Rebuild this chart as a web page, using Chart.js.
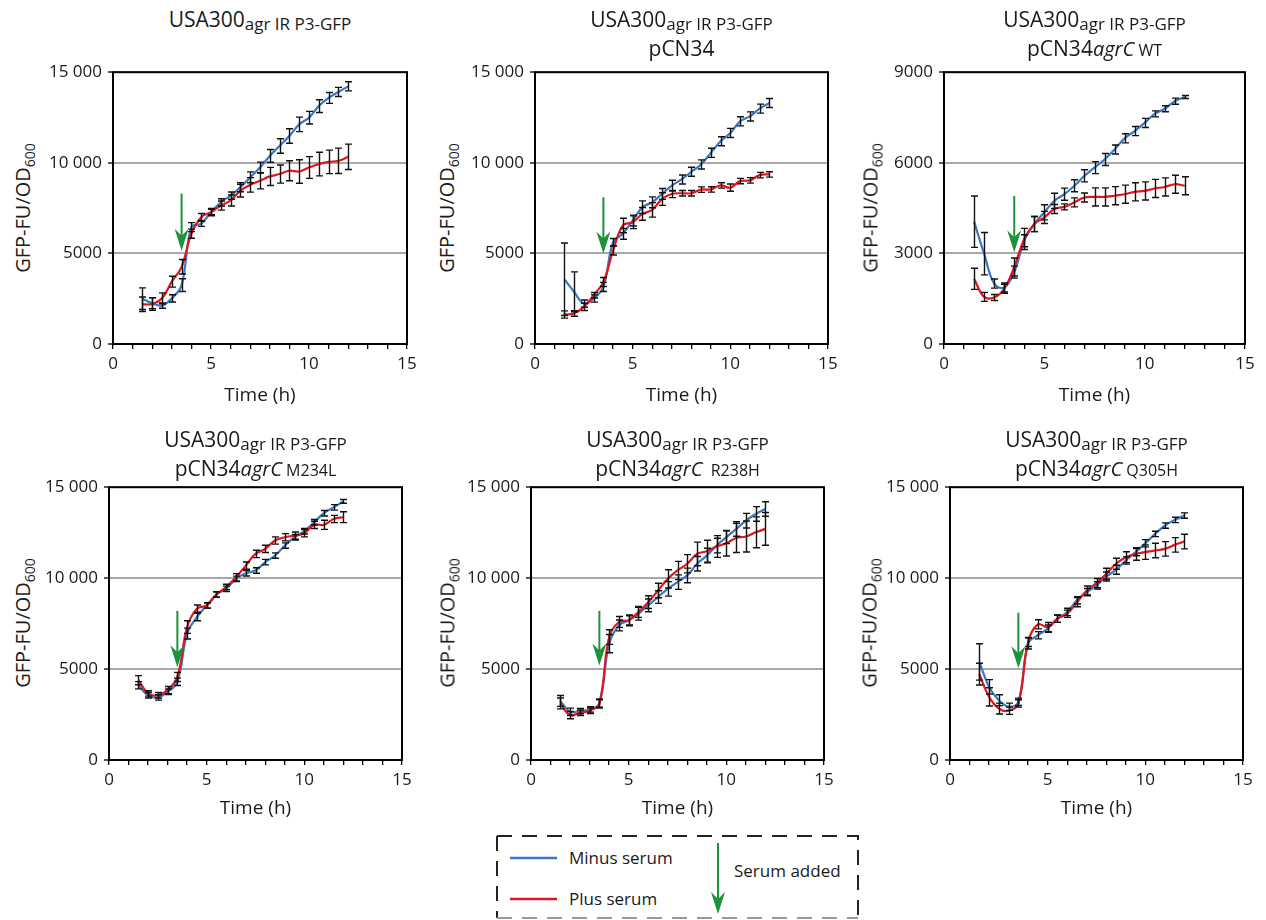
<!DOCTYPE html>
<html>
<head>
<meta charset="utf-8">
<script src="https://cdn.jsdelivr.net/npm/chart.js@4.4.1/dist/chart.umd.min.js"></script>
<style>
  body { margin: 0; background: #fff; font-family: 'Open Sans', sans-serif; color: #1a1a1a; }
  #page { position: relative; width: 1266px; height: 920px; overflow: hidden; }
  canvas { position: absolute; }
  .title { position: absolute; width: 420px; text-align: center; white-space: nowrap; line-height: 27px; }
  .title .big { font-size: 21px; }
  .title .small { font-size: 17px; position: relative; top: 3px; }
  .title .gene { font-size: 20px; font-style: italic; }
  .title .mut { font-size: 16px; }
  .ylab { position: absolute; width: 220px; text-align: center; font-size: 20px; white-space: nowrap;
          transform: translate(-50%, -50%) rotate(-90deg); }
  .ylab .sub { font-size: 14px; position: relative; top: 5px; }
  #legend { position: absolute; left: 490px; top: 830px; }
</style>
</head>
<body>
<div id="page"></div>
<script>
// sampling times (h)
const hours = [1.5, 2, 2.5, 3, 3.5, 4, 4.5, 5, 5.5, 6, 6.5, 7, 7.5, 8, 8.5, 9, 9.5, 10, 10.5, 11, 11.5, 12];

// panel 1: USA300 agr IR P3-GFP
const p1Minus = [2500, 2250, 2120, 2520, 3250, 6450, 6640, 7280, 7820, 8190, 8650, 9200, 9740, 10380, 10930, 11480, 12120, 12490, 13130, 13580, 13910, 14220];
const p1Plus = [2190, 2210, 2520, 3440, 4260, 6090, 7000, 7280, 7640, 7920, 8460, 8780, 9010, 9250, 9380, 9560, 9520, 9740, 9930, 10050, 10110, 10330];
const p1MinusErr = [600, 300, 150, 200, 350, 250, 150, 150, 200, 200, 250, 300, 300, 350, 400, 400, 400, 350, 350, 300, 250, 250];
const p1PlusErr = [400, 350, 300, 300, 400, 250, 200, 200, 250, 300, 350, 400, 450, 500, 500, 550, 650, 600, 650, 650, 700, 700];

// panel 2: pCN34
const p2Minus = [3570, 2880, 2230, 2510, 3150, 5620, 6080, 6810, 7550, 7820, 8280, 8740, 9080, 9505, 9910, 10550, 11190, 11650, 12290, 12560, 12990, 13300];
const p2Plus = [1630, 1685, 2050, 2690, 3420, 5160, 6540, 6720, 7180, 7400, 8000, 8280, 8320, 8320, 8520, 8530, 8750, 8630, 8990, 9030, 9320, 9360];
const p2MinusErr = [2000, 1100, 200, 200, 250, 200, 300, 300, 350, 300, 300, 300, 250, 250, 250, 250, 250, 250, 250, 250, 250, 250];
const p2PlusErr = [200, 150, 200, 150, 250, 250, 400, 350, 350, 400, 350, 200, 150, 150, 150, 150, 150, 200, 150, 150, 150, 150];

// panel 3: pCN34 agrC WT
const p3Minus = [4050, 2990, 2000, 1870, 2380, 3420, 3970, 4360, 4740, 4960, 5240, 5570, 5840, 6110, 6440, 6810, 7050, 7320, 7620, 7790, 8040, 8180];
const p3Plus = [2160, 1560, 1540, 1830, 2550, 3480, 3970, 4190, 4470, 4540, 4690, 4850, 4870, 4870, 4910, 4960, 5040, 5070, 5150, 5200, 5290, 5240];
const p3MinusErr = [850, 700, 150, 150, 200, 200, 250, 250, 250, 200, 200, 200, 200, 200, 150, 150, 150, 150, 100, 100, 100, 50];
const p3PlusErr = [350, 150, 100, 150, 300, 350, 250, 200, 150, 100, 150, 150, 300, 300, 300, 300, 300, 300, 300, 300, 300, 300];

// panel 4: pCN34 agrC M234L
const p4Minus = [4110, 3560, 3440, 3750, 4300, 6950, 7860, 8500, 9100, 9410, 9960, 10270, 10420, 10880, 11240, 11790, 12250, 12580, 13070, 13570, 13890, 14220];
const p4Plus = [4390, 3660, 3560, 3840, 4570, 7310, 8320, 8500, 9100, 9510, 10050, 10690, 11330, 11610, 12070, 12250, 12340, 12470, 12930, 12930, 13250, 13350];
const p4MinusErr = [200, 150, 150, 150, 200, 300, 200, 150, 150, 150, 150, 150, 150, 150, 150, 150, 150, 150, 150, 150, 150, 100];
const p4PlusErr = [250, 150, 150, 200, 250, 350, 200, 150, 150, 150, 200, 200, 200, 200, 200, 200, 200, 200, 200, 250, 200, 300];

// panel 5: pCN34 agrC R238H
const p5Minus = [3250, 2650, 2690, 2780, 3110, 6400, 7400, 7680, 8040, 8500, 8960, 9410, 9780, 10150, 10790, 11240, 11790, 12250, 12700, 13160, 13530, 13800];
const p5Plus = [3110, 2470, 2600, 2710, 3110, 6760, 7590, 7680, 8140, 8680, 9320, 9960, 10420, 10790, 11330, 11480, 11740, 11920, 12210, 12290, 12520, 12710];
const p5MinusErr = [300, 200, 150, 150, 200, 500, 300, 300, 350, 350, 350, 400, 400, 400, 400, 400, 400, 350, 400, 400, 400, 400];
const p5PlusErr = [300, 200, 150, 150, 250, 400, 300, 250, 300, 350, 400, 500, 500, 500, 650, 600, 600, 700, 800, 850, 850, 900];

// panel 6: pCN34 agrC Q305H
const p6Minus = [5390, 4020, 3290, 2930, 3200, 6400, 6860, 7220, 7770, 8140, 8780, 9230, 9600, 10090, 10460, 10970, 11430, 11920, 12430, 12890, 13200, 13440];
const p6Plus = [4720, 3470, 2830, 2710, 3110, 6490, 7460, 7310, 7770, 8040, 8680, 9320, 9730, 10240, 10790, 11150, 11330, 11430, 11520, 11610, 11830, 12010];
const p6MinusErr = [1000, 400, 300, 200, 200, 300, 200, 200, 200, 200, 200, 200, 200, 250, 250, 200, 200, 200, 150, 150, 150, 150];
const p6PlusErr = [600, 500, 300, 200, 200, 250, 250, 250, 200, 200, 250, 250, 250, 300, 300, 300, 350, 400, 400, 400, 400, 400];

// y axes
const yMaxes = [15000, 15000, 9000, 15000, 15000, 15000];
const ySteps = [5000, 5000, 3000, 5000, 5000, 5000];

// serum added arrow (time, start value, tip value)
const arrowHour = 3.5;
const arrowTop = [8300, 8100, 4900, 8200, 8200, 8100];
const arrowTip = [5150, 5000, 3040, 5100, 5200, 5040];

// titles
const strainName = 'USA300';
const strainSuffix = 'agr IR P3-GFP';
const plasmids = ['', 'pCN34', 'pCN34', 'pCN34', 'pCN34', 'pCN34'];
const genes = ['', '', 'agrC', 'agrC', 'agrC', 'agrC'];
const mutations = ['', '', 'WT', 'M234L', '\u00a0R238H', 'Q305H'];

const BLUE = '#3b77c2';
const RED = '#e5141d';
const GREEN = '#1b933a';
const INK = '#1a1a1a';
const FONT = "'Open Sans', sans-serif";

// layout of each plot box (left, top, right, bottom) and label spots
const boxes = [
  { L: 113, T: 71, R: 407, B: 344, xH: 63, ylx: 22 },
  { L: 535, T: 71, R: 828, B: 344, xH: 63, ylx: 446 },
  { L: 944, T: 71, R: 1245, B: 344, xH: 63, ylx: 870 },
  { L: 109, T: 486, R: 402, B: 760, xH: 60, ylx: 22 },
  { L: 531, T: 486, R: 824, B: 760, xH: 60, ylx: 447 },
  { L: 950, T: 486, R: 1243, B: 760, xH: 60, ylx: 869 }
];

const series = [
  [p1Minus, p1Plus, p1MinusErr, p1PlusErr],
  [p2Minus, p2Plus, p2MinusErr, p2PlusErr],
  [p3Minus, p3Plus, p3MinusErr, p3PlusErr],
  [p4Minus, p4Plus, p4MinusErr, p4PlusErr],
  [p5Minus, p5Plus, p5MinusErr, p5PlusErr],
  [p6Minus, p6Plus, p6MinusErr, p6PlusErr]
];

const page = document.getElementById('page');

function fmtTick(v) {
  return v >= 10000 ? String(v).replace(/(\d{3})$/, ' $1') : String(v);
}

const boxPlugin = {
  id: 'box',
  beforeDatasetsDraw(chart) {
    const { ctx, chartArea: a } = chart;
    ctx.save();
    ctx.strokeStyle = '#000';
    ctx.lineWidth = 2;
    ctx.strokeRect(a.left, a.top, a.right - a.left, a.bottom - a.top);
    ctx.restore();
  }
};

const errPlugin = {
  id: 'errbars',
  afterDatasetsDraw(chart) {
    const { ctx } = chart;
    const xs = chart.scales.x, ys = chart.scales.y;
    ctx.save();
    ctx.strokeStyle = '#111';
    ctx.lineWidth = 1.4;
    chart.data.datasets.forEach(ds => {
      ds.data.forEach((pt, k) => {
        const e = ds.errors[k];
        const x = Math.round(xs.getPixelForValue(pt.x)) + 0.5;
        const y1 = ys.getPixelForValue(pt.y + e);
        const y2 = ys.getPixelForValue(pt.y - e);
        ctx.beginPath();
        ctx.moveTo(x, y1); ctx.lineTo(x, y2);
        ctx.moveTo(x - 3.5, y1); ctx.lineTo(x + 3.5, y1);
        ctx.moveTo(x - 3.5, y2); ctx.lineTo(x + 3.5, y2);
        ctx.stroke();
      });
    });
    ctx.restore();
  }
};

const arrowPlugin = {
  id: 'serumArrow',
  afterDatasetsDraw(chart) {
    const { ctx } = chart;
    const o = chart.options.plugins.serumArrow;
    const x = chart.scales.x.getPixelForValue(arrowHour);
    const yTop = chart.scales.y.getPixelForValue(o.top);
    const yTip = chart.scales.y.getPixelForValue(o.tip);
    ctx.save();
    ctx.strokeStyle = GREEN;
    ctx.fillStyle = GREEN;
    ctx.lineWidth = 2;
    ctx.beginPath();
    ctx.moveTo(x, yTop); ctx.lineTo(x, yTip - 12);
    ctx.stroke();
    ctx.beginPath();
    ctx.moveTo(x, yTip);
    ctx.lineTo(x - 7, yTip - 22);
    ctx.lineTo(x, yTip - 15);
    ctx.lineTo(x + 7, yTip - 22);
    ctx.closePath();
    ctx.fill();
    ctx.restore();
  }
};

boxes.forEach((b, i) => {
  const [minus, plus, minusErr, plusErr] = series[i];
  const padTop = 15, padRight = 25, yW = 70;
  const w = b.R - b.L, h = b.B - b.T;

  const cv = document.createElement('canvas');
  cv.width = yW + w + padRight;
  cv.height = padTop + h + b.xH;
  cv.style.left = (b.L - yW) + 'px';
  cv.style.top = (b.T - padTop) + 'px';
  page.appendChild(cv);

  // title
  const t = document.createElement('div');
  t.className = 'title';
  t.style.left = ((b.L + b.R) / 2 - 210) + 'px';
  t.style.top = (i < 3 ? 6 : 426) + 'px';
  let html = '<span class="big">' + strainName + '</span><span class="small">' + strainSuffix + '</span>';
  if (plasmids[i]) {
    html += '<br><span class="big">' + plasmids[i] + '</span>';
    if (genes[i]) html += '<span class="gene">' + genes[i] + '</span>';
    if (mutations[i]) html += '<span class="mut">\u00a0' + mutations[i] + '</span>';
  }
  t.innerHTML = html;
  page.appendChild(t);

  // y axis label
  const yl = document.createElement('div');
  yl.className = 'ylab';
  yl.style.left = b.ylx + 'px';
  yl.style.top = ((b.T + b.B) / 2) + 'px';
  yl.innerHTML = 'GFP-FU/OD<span class="sub">600</span>';
  page.appendChild(yl);

  new Chart(cv, {
    type: 'line',
    data: {
      datasets: [
        { label: 'Plus serum', data: hours.map((x, k) => ({ x, y: plus[k] })), errors: plusErr,
          borderColor: RED, borderWidth: 2.2, pointRadius: 0, tension: 0.4, fill: false, order: 0 },
        { label: 'Minus serum', data: hours.map((x, k) => ({ x, y: minus[k] })), errors: minusErr,
          borderColor: BLUE, borderWidth: 2.2, pointRadius: 0, tension: 0.4, fill: false, order: 1 }
      ]
    },
    options: {
      responsive: false,
      animation: false,
      events: [],
      layout: { padding: { top: padTop, right: padRight, left: 0, bottom: 0 } },
      plugins: {
        legend: { display: false },
        tooltip: { enabled: false },
        serumArrow: { top: arrowTop[i], tip: arrowTip[i] }
      },
      scales: {
        x: {
          type: 'linear', min: 0, max: 15,
          afterFit(s) { s.height = b.xH; },
          ticks: { stepSize: 1, autoSkip: false, maxRotation: 0, padding: 5, color: INK,
                   font: { family: FONT, size: 17 },
                   callback: v => (v % 5 === 0 ? String(v) : '') },
          grid: { drawOnChartArea: false, color: '#000', lineWidth: 1.3, tickLength: 5 },
          border: { display: false },
          title: { display: true, text: 'Time (h)', color: INK, padding: 0,
                   font: { family: FONT, size: 19 } }
        },
        y: {
          min: 0, max: yMaxes[i],
          afterFit(s) { s.width = yW; },
          ticks: { stepSize: ySteps[i], padding: 6, color: INK,
                   font: { family: FONT, size: 17 }, callback: fmtTick },
          grid: { color: '#a8a8a8', lineWidth: 2, tickColor: '#000', tickWidth: 1.3, tickLength: 5 },
          border: { display: false }
        }
      }
    },
    plugins: [boxPlugin, errPlugin, arrowPlugin]
  });
});

// legend
page.insertAdjacentHTML('beforeend', `
<svg id="legend" width="380" height="90" xmlns="http://www.w3.org/2000/svg">
  <path d="M7 6 H368 V88" fill="none" stroke="#222" stroke-width="2" stroke-dasharray="15 10"/>
  <path d="M7 6 V88" fill="none" stroke="#222" stroke-width="2" stroke-dasharray="15 10"/>
  <path d="M7 88 H368" fill="none" stroke="#999" stroke-width="2" stroke-dasharray="15 10"/>
  <line x1="20" y1="28" x2="67" y2="28" stroke="${BLUE}" stroke-width="2.5"/>
  <text x="79" y="34" font-family="Open Sans, sans-serif" font-size="17" fill="${INK}">Minus serum</text>
  <line x1="20" y1="69" x2="67" y2="69" stroke="${RED}" stroke-width="2.5"/>
  <text x="79" y="75" font-family="Open Sans, sans-serif" font-size="17" fill="${INK}">Plus serum</text>
  <line x1="228" y1="13" x2="228" y2="72" stroke="${GREEN}" stroke-width="2"/>
  <path d="M228 84 L221 62 L228 69 L235 62 Z" fill="${GREEN}"/>
  <text x="244" y="47" font-family="Open Sans, sans-serif" font-size="17" fill="${INK}">Serum added</text>
</svg>`);
</script>
</body>
</html>
